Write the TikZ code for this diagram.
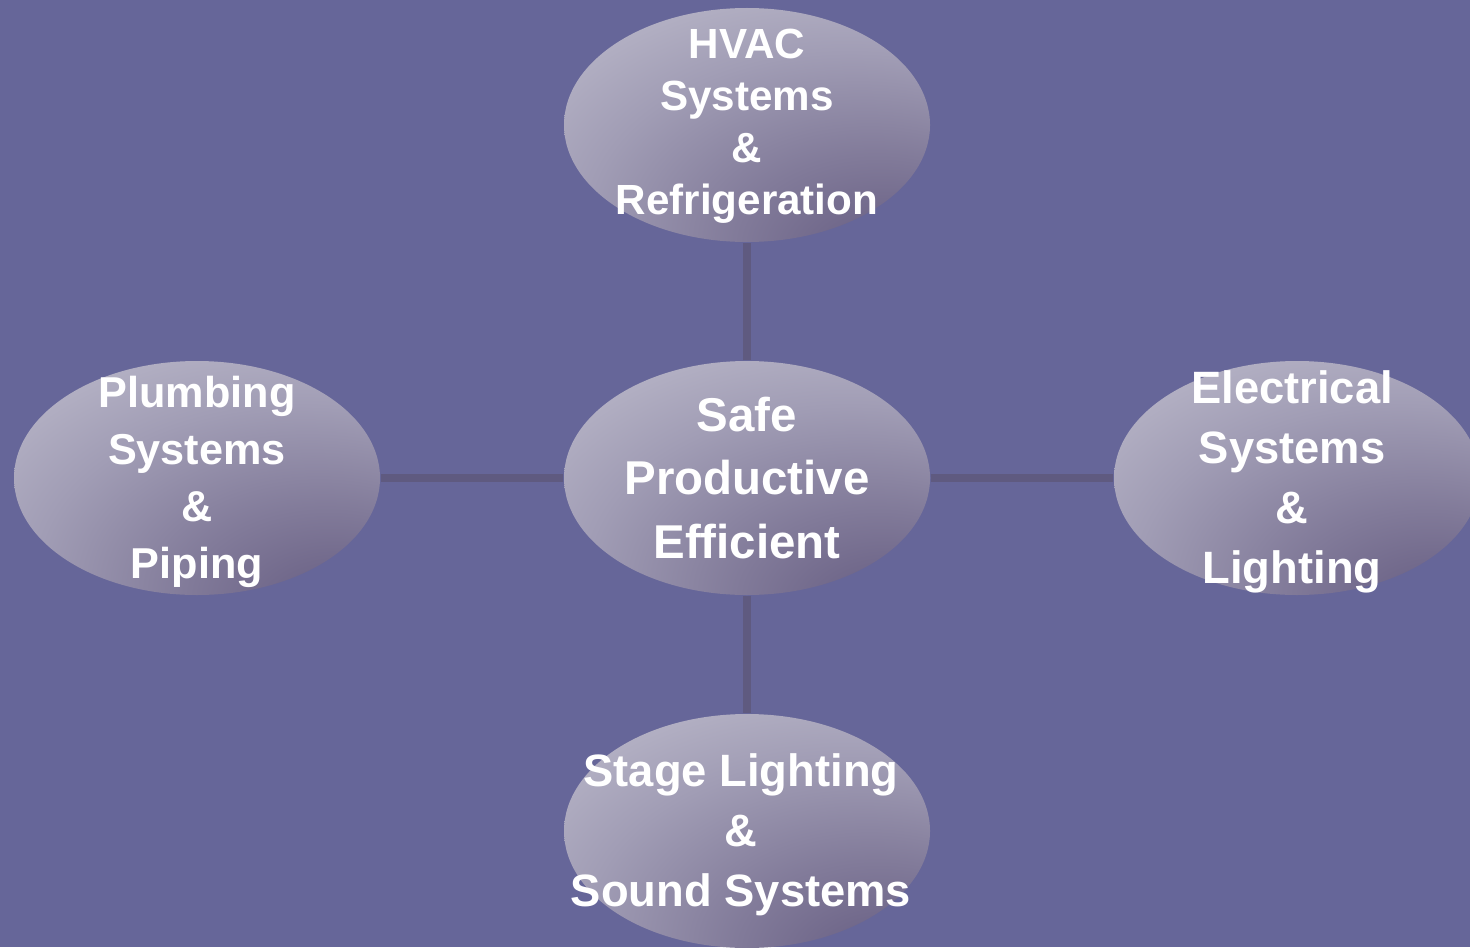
\documentclass[tikz,border=0pt]{standalone}
\usepackage{fontspec}
\setmainfont[Ligatures=NoCommon]{Liberation Sans}
\usetikzlibrary{shapes.geometric}
\definecolor{bgc}{HTML}{666699}
\definecolor{linkc}{HTML}{5F5A80}
\definecolor{lightc}{HTML}{BFBDCD}
\definecolor{midc}{HTML}{A19DB5}
\definecolor{darkc}{HTML}{6A6185}
\pgfdeclareradialshading{discshade}{\pgfpoint{22bp}{-32bp}}{%
  color(0bp)=(darkc); color(6bp)=(darkc); color(20bp)=(darkc!55!midc); color(36bp)=(midc);
  color(54bp)=(lightc); color(100bp)=(lightc)}
\tikzset{
  disc/.style={ellipse, shading=discshade, minimum width=3.66cm, minimum height=2.34cm, inner sep=0pt},
  txt/.style={text=white, font=\bfseries, align=center, inner sep=0pt},
  link/.style={linkc, line width=0.08cm}
}
\begin{document}
\begin{tikzpicture}
\fill[bgc] (0,0) rectangle (14.7,-9.47);
\useasboundingbox (0,0) rectangle (14.7,-9.47);
% the five discs
\node[disc] (core) at (7.47,-4.78) {};
\node[disc] (hvac) at (7.47,-1.25) {};
\node[disc] (plumb) at (1.97,-4.78) {};
\node[disc] (elec) at (12.97,-4.78) {};
\node[disc] (stage) at (7.47,-8.31) {};
% links
\draw[link] (core) -- (hvac);
\draw[link] (core) -- (plumb);
\draw[link] (core) -- (elec);
\draw[link] (core) -- (stage);
% labels
\node[txt, font=\bfseries\fontsize{13.5}{18}\selectfont] (coretxt) at (core) {Safe\\Productive\\Efficient};
\node[txt, font=\bfseries\fontsize{12}{14.8}\selectfont] (hvactxt) at (7.47,-1.26) {HVAC\\Systems\\\&\\Refrigeration};
\node[txt, font=\bfseries\fontsize{12.3}{16.2}\selectfont] (plumbtxt) at (1.97,-4.82) {Plumbing\\Systems\\\&\\Piping};
\node[txt, font=\bfseries\fontsize{12.9}{17.1}\selectfont] (electxt) at (12.92,-4.82) {Electrical\\Systems\\\&\\Lighting};
\node[txt, font=\bfseries\fontsize{12.9}{17.1}\selectfont] (stagetxt) at (7.41,-8.35) {Stage Lighting\\\&\\Sound Systems};
\end{tikzpicture}
\end{document}
